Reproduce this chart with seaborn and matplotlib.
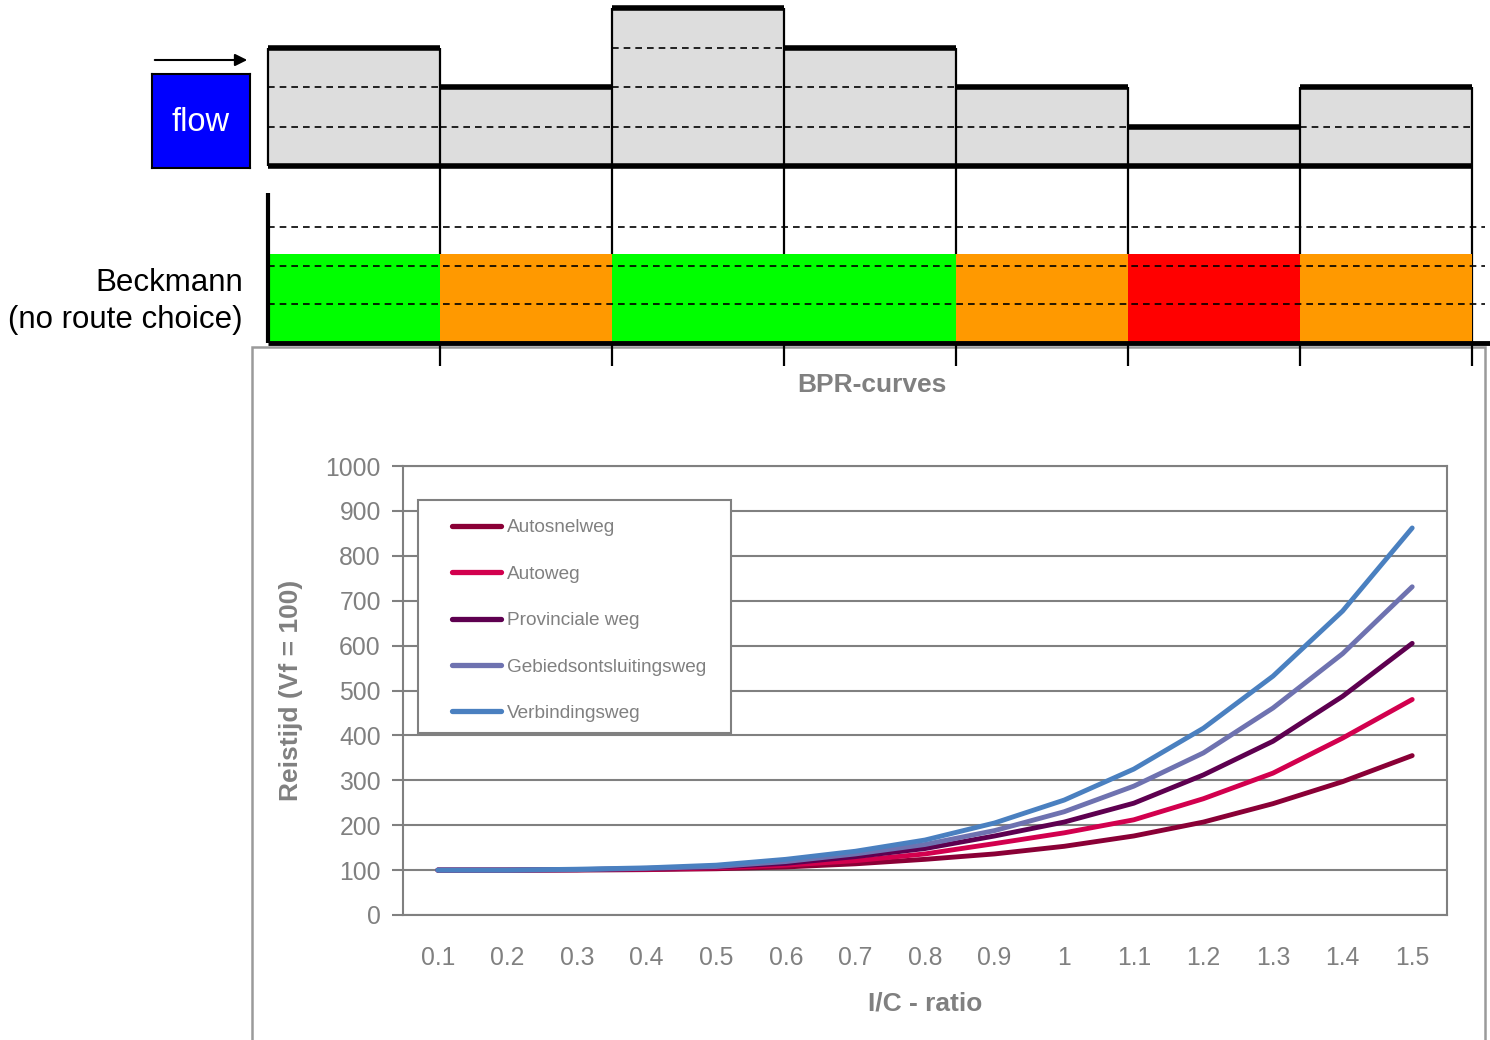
import matplotlib
matplotlib.use("Agg")
import matplotlib.pyplot as plt
from matplotlib.patches import Rectangle, FancyArrowPatch
import pandas as pd
import seaborn as sns

sns.set_style("white")
plt.rcParams["font.family"] = ["Liberation Sans", "DejaVu Sans"]

# Data

segments = [1, 2, 3, 4, 5, 6, 7]
flow_level = [3, 2, 4, 3, 2, 1, 2]
beckmann_state = ["free", "busy", "free", "free", "busy", "jam", "busy"]
state_colors = {"free": "#00ff00", "busy": "#ff9900", "jam": "#ff0000"}

ic_ratio = [0.1, 0.2, 0.3, 0.4, 0.5, 0.6, 0.7, 0.8, 0.9, 1.0, 1.1, 1.2, 1.3, 1.4, 1.5]
ic_labels = ["0.1", "0.2", "0.3", "0.4", "0.5", "0.6", "0.7", "0.8", "0.9", "1",
             "1.1", "1.2", "1.3", "1.4", "1.5"]
autosnelweg = [100, 100, 100, 101, 103, 107, 114, 124, 136, 153, 176, 207, 248, 297, 355]
autoweg = [100, 100, 101, 102, 105, 111, 121, 136, 159, 183, 212, 259, 316, 394, 480]
provinciale = [100, 100, 101, 103, 107, 115, 130, 148, 176, 207, 249, 312, 387, 487, 605]
gebied = [100, 100, 101, 104, 108, 119, 136, 157, 188, 230, 287, 361, 461, 582, 731]
verbinding = [100, 100, 102, 105, 111, 124, 142, 167, 205, 256, 325, 416, 532, 677, 862]

road_types = ["Autosnelweg", "Autoweg", "Provinciale weg", "Gebiedsontsluitingsweg", "Verbindingsweg"]
road_colors = ["#8a0036", "#d2004e", "#5e0050", "#6e72b0", "#4a80c0"]

bpr = pd.DataFrame({
    "ic": ic_ratio * 5,
    "tijd": autosnelweg + autoweg + provinciale + gebied + verbinding,
    "weg": [w for w in road_types for _ in ic_ratio],
})

GREY = "#808080"
W, H = 1490, 1040
fig = plt.figure(figsize=(W / 100, H / 100), dpi=100)


def px_rect(x0, y0, x1, y1):
    # pixel box (top-left origin) -> figure fraction rect
    return [x0 / W, 1 - y1 / H, (x1 - x0) / W, (y1 - y0) / H]


# Flow panel (grey steps)
ax_flow = fig.add_axes(px_rect(268, 0, 1472, 166))
sns.barplot(x=segments, y=flow_level, color="#dddddd", width=1.0, saturation=1,
            edgecolor="none", ax=ax_flow)
ax_flow.set_xlim(-0.5, 6.5)
ax_flow.set_ylim(0, 166 / 39.5)
ax_flow.axis("off")
drop = -200 / 39.5  # vertical separators run down past the Beckmann panel
for i, lvl in enumerate(flow_level):
    for d in range(1, lvl):
        ax_flow.hlines(d, i - 0.5, i + 0.5, colors="black", linestyles=(0, (4, 3)), lw=1.2)
    ax_flow.hlines(lvl, i - 0.5, i + 0.5, colors="black", lw=4, zorder=5, clip_on=False)
for i in range(8):
    left = flow_level[i - 1] if i > 0 else 0
    right = flow_level[i] if i < 7 else 0
    bottom = 0 if i == 0 else drop
    ax_flow.vlines(i - 0.5, bottom, max(left, right), colors="black", lw=1.6,
                   clip_on=False, zorder=6)
ax_flow.hlines(0, -0.5, 6.5, colors="black", lw=4, zorder=5, clip_on=False)

# Flow box and arrow
ax_box = fig.add_axes(px_rect(152, 74, 250, 168))
ax_box.set_facecolor("#0000ff")
ax_box.set_xticks([])
ax_box.set_yticks([])
for s in ax_box.spines.values():
    s.set_color("black")
    s.set_linewidth(1.5)
ax_box.text(0.5, 0.48, "flow", color="white", fontsize=23.5, ha="center", va="center",
            transform=ax_box.transAxes)
fig.patches.append(FancyArrowPatch(
    (152 / W, 1 - 60 / H), (250 / W, 1 - 60 / H), transform=fig.transFigure,
    arrowstyle="-|>", mutation_scale=18, color="black", lw=1.5))

# Beckmann panel
ax_beck = fig.add_axes(px_rect(268, 193, 1472, 343))
ax_beck.bar(range(7), [89] * 7, width=1.0, color=[state_colors[s] for s in beckmann_state],
            linewidth=0)
ax_beck.set_xlim(-0.5, 6.5)
ax_beck.set_ylim(0, 150)
ax_beck.axis("off")
x_end = 6.5 + 13 / 172
for lvl in [39, 77, 116]:
    ax_beck.hlines(lvl, -0.5, x_end, colors="black", linestyles=(0, (4, 3)), lw=1.2,
                   clip_on=False, zorder=4)
ax_beck.vlines(-0.5, 0, 150, colors="black", lw=3, zorder=5, clip_on=False)
ax_beck.hlines(0, -0.5, 6.5 + 18 / 172, colors="black", lw=3.5, clip_on=False, zorder=5)
fig.text(243 / W, 1 - 283 / H, "Beckmann", fontsize=22.5, color="black",
         ha="right", va="center")
fig.text(243 / W, 1 - 320 / H, "(no route choice)", fontsize=22.5, color="black",
         ha="right", va="center")

# BPR chart frame
fig.patches.append(Rectangle((252 / W, -0.05), (1485 - 252) / W, 0.05 + 1 - 347 / H,
                             transform=fig.transFigure, facecolor="white",
                             edgecolor="#9a9a9a", lw=1.8, zorder=-1))
fig.text(872 / W, 1 - 385 / H, "BPR-curves", fontsize=19, fontweight="bold",
         color=GREY, ha="center", va="center")

ax = fig.add_axes(px_rect(403, 466, 1447, 915))
sns.lineplot(data=bpr, x="ic", y="tijd", hue="weg", palette=road_colors,
             hue_order=road_types, linewidth=3.5, ax=ax, legend=True)
ax.set_xlim(0.05, 1.55)
ax.set_ylim(0, 1000)
ax.set_yticks(range(0, 1001, 100))
ax.set_xticks([0.05 + 0.1 * k for k in range(16)])
ax.set_xticklabels([])
ax.set_xticks(ic_ratio, minor=True)
ax.set_xticklabels(ic_labels, minor=True)
ax.tick_params(axis="x", which="major", direction="out", length=7, width=1.5, color=GREY)
ax.tick_params(axis="x", which="minor", length=0, pad=22, labelsize=17.8, labelcolor=GREY)
ax.tick_params(axis="y", direction="out", length=8, width=1.5, color=GREY,
               pad=8, labelsize=17.8, labelcolor=GREY, left=True)
ax.yaxis.grid(True, color=GREY, lw=1.5)
ax.set_axisbelow(True)
for s in ax.spines.values():
    s.set_color(GREY)
    s.set_linewidth(1.5)
ax.set_xlabel("I/C - ratio", fontsize=19, fontweight="bold", color=GREY, labelpad=16)
ax.set_ylabel("Reistijd (Vf = 100)", fontsize=19, fontweight="bold", color=GREY, labelpad=16)

# legend box
ax.add_patch(Rectangle(((418 - 403) / 1044, (915 - 733) / 449), (731 - 418) / 1044,
                       (733 - 500) / 449, transform=ax.transAxes, facecolor="white",
                       edgecolor=GREY, lw=1.5, zorder=3))
leg = ax.legend(loc="upper left", bbox_to_anchor=((452 - 403) / 1044, (915 - 519) / 449),
                frameon=False, fontsize=13.7, borderpad=0, borderaxespad=0,
                handlelength=2.6, handletextpad=0.3, labelspacing=1.53)
leg.set_zorder(6)
for t in leg.get_texts():
    t.set_color(GREY)
for h in leg.get_lines():
    h.set_linewidth(3.8)

fig.savefig("out.png", dpi=100)
